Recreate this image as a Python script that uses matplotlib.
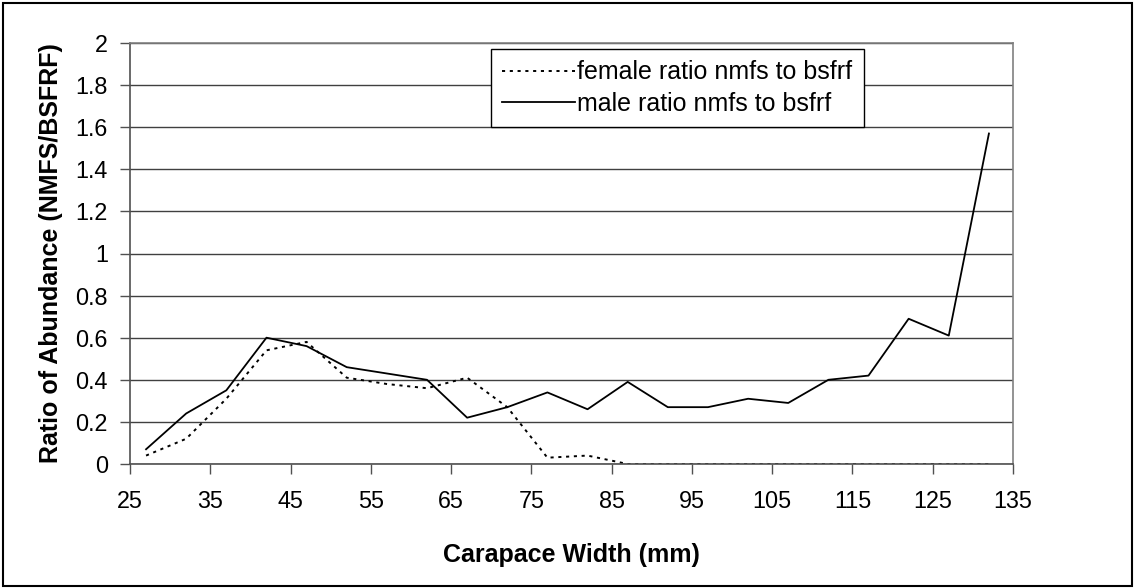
import matplotlib
matplotlib.use("Agg")
import matplotlib.pyplot as plt

# carapace width bins (mm) and ratios
width_mm = [27, 32, 37, 42, 47, 52, 57, 62, 67, 72, 77, 82, 87, 92, 97,
            102, 107, 112, 117, 122, 127, 132]
female_ratio = [0.04, 0.12, 0.31, 0.54, 0.58, 0.41, 0.38, 0.36, 0.41, 0.27, 0.03,
                0.04, 0.0, 0.0, 0.0, 0.0, 0.0, 0.0, 0.0, 0.0, 0.0, 0.0]
male_ratio = [0.07, 0.24, 0.35, 0.60, 0.56, 0.46, 0.43, 0.40, 0.22, 0.27, 0.34,
              0.26, 0.39, 0.27, 0.27, 0.31, 0.29, 0.40, 0.42, 0.69, 0.61, 1.57]
x_ticks = list(range(25, 136, 10))
y_ticks = [0, 0.2, 0.4, 0.6, 0.8, 1, 1.2, 1.4, 1.6, 1.8, 2]
y_tick_labels = ["0", "0.2", "0.4", "0.6", "0.8", "1", "1.2", "1.4", "1.6", "1.8", "2"]

plt.rcParams["font.family"] = ["Liberation Sans", "DejaVu Sans"]

W, H = 1134, 588
fig = plt.figure(figsize=(W / 100, H / 100), dpi=100)
fig.patch.set_facecolor("white")

# outer chart border
border = plt.Rectangle((2.5 / W, 2.5 / H), (W - 5) / W, (H - 5) / H,
                       transform=fig.transFigure, fill=False,
                       edgecolor="black", linewidth=1.5)
fig.patches.append(border)

left, right, top, bottom = 130, 1013, 43, 464
ax = fig.add_axes([left / W, (H - bottom) / H, (right - left) / W, (bottom - top) / H])

ax.plot(width_mm, female_ratio, color="black", lw=1.4, linestyle=(0, (1.6, 2.4)),
        label="female ratio nmfs to bsfrf")
ax.plot(width_mm, male_ratio, color="black", lw=1.3, label="male ratio nmfs to bsfrf")

ax.set_xlim(25, 135)
ax.set_ylim(0, 2)
ax.set_xticks(x_ticks)
ax.set_yticks(y_ticks)
ax.set_yticklabels(y_tick_labels)

ax.yaxis.grid(True, color="#404040", linewidth=1)
ax.set_axisbelow(True)

for side in ["top", "right"]:
    ax.spines[side].set_color("#808080")
    ax.spines[side].set_linewidth(1.2)
for side in ["left", "bottom"]:
    ax.spines[side].set_color("#505050")
    ax.spines[side].set_linewidth(1.2)

ax.tick_params(axis="x", direction="out", length=7, width=1, color="#505050",
               labelsize=16.8, pad=12)
ax.tick_params(axis="y", direction="out", length=7, width=1, color="#505050",
               labelsize=16.8, pad=9)

ax.set_xlabel("Carapace Width (mm)", fontsize=18, fontweight="bold")
ax.xaxis.set_label_coords(0.5, -0.188)
ax.set_ylabel("Ratio of Abundance (NMFS/BSFRF)", fontsize=18, fontweight="bold")
ax.yaxis.set_label_coords(-0.076, 0.5)

leg = ax.legend(loc="upper left", bbox_to_anchor=((491 - left) / (right - left), (bottom - 49) / (bottom - top)),
                borderaxespad=0, fontsize=18, handlelength=2.9, handletextpad=0.1,
                borderpad=0.45, labelspacing=0.3, fancybox=False, framealpha=1)
leg.get_frame().set_edgecolor("black")
leg.get_frame().set_linewidth(1)

fig.savefig("out.png", dpi=100)
